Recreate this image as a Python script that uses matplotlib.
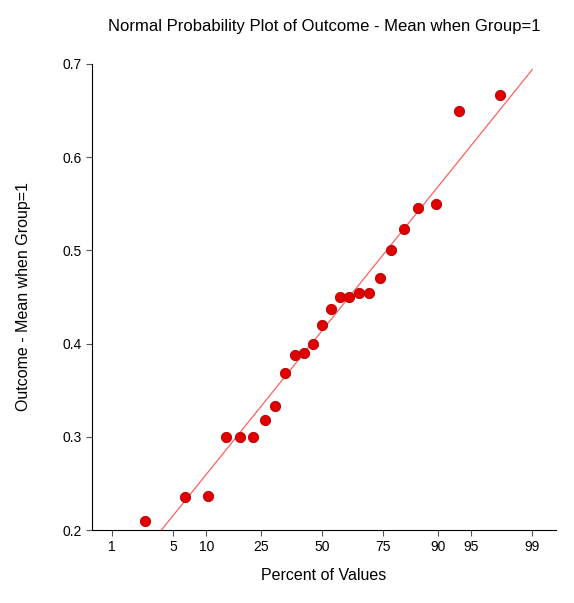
import matplotlib
matplotlib.use("Agg")
import matplotlib.pyplot as plt
from statistics import NormalDist
import numpy as np

values = [0.210, 0.235, 0.237, 0.300, 0.300, 0.300, 0.318, 0.333, 0.368, 0.388,
          0.390, 0.400, 0.420, 0.437, 0.450, 0.450, 0.454, 0.454, 0.470, 0.500,
          0.523, 0.545, 0.550, 0.650, 0.667]
pct_ticks = [1, 5, 10, 25, 50, 75, 90, 95, 99]
y_ticks = [0.2, 0.3, 0.4, 0.5, 0.6, 0.7]

nd = NormalDist()
n = len(values)
z = [nd.inv_cdf((i + 1 - 0.375) / (n + 0.25)) for i in range(n)]
mean = float(np.mean(values)); sd = 0.1204

plt.rcParams['font.family'] = ['Liberation Sans', 'DejaVu Sans']
fig = plt.figure(figsize=(5.74, 6.03), dpi=100)
ax = fig.add_axes([0.160, 0.121, 0.809, 0.773])
zl0 = (0.2 - mean) / sd
zl1 = nd.inv_cdf(0.99)
ax.plot([zl0, zl1], [mean + sd * zl0, mean + sd * zl1], color='#ff6060', lw=0.9, zorder=1)
ax.scatter(z, values, s=55, color='#e00000', edgecolor='#b00000', linewidth=0.6, zorder=2)
ax.set_xlim(-2.547, 2.59)
ax.set_ylim(0.2, 0.7)
ax.set_xticks([nd.inv_cdf(p / 100) for p in pct_ticks])
ax.set_xticklabels([str(p) for p in pct_ticks])
ax.set_yticks(y_ticks)
ax.set_yticklabels([f"{v:.1f}" for v in y_ticks])
for s in ['top', 'right']:
    ax.spines[s].set_visible(False)
ax.tick_params(labelsize=10, length=4, color='#555555')
ax.set_xlabel('Percent of Values', fontsize=11.5, labelpad=10)
ax.set_ylabel('Outcome - Mean when Group=1', fontsize=11.5, labelpad=22)
ax.set_title('Normal Probability Plot of Outcome - Mean when Group=1', fontsize=12, pad=24)
fig.savefig('out.png', dpi=100)
